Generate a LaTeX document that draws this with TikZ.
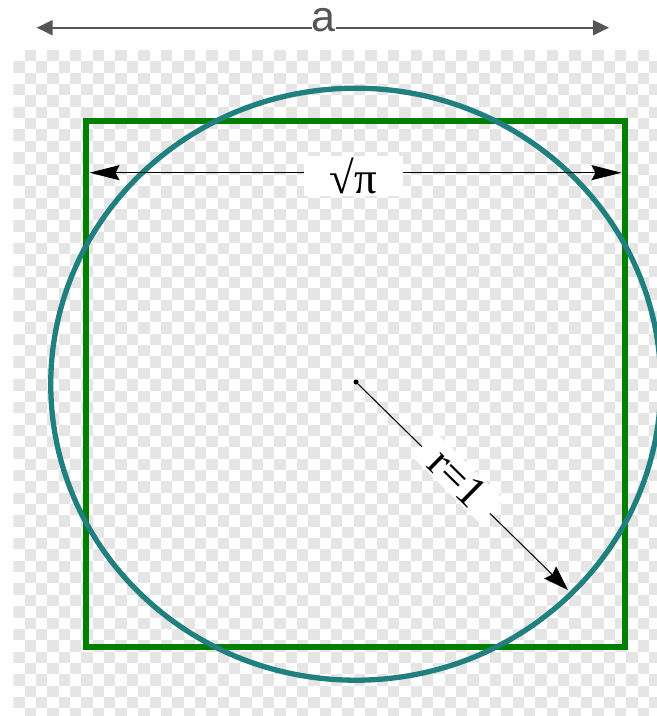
\documentclass[tikz,border=0pt]{standalone}
\usepackage{fontspec}
\setmainfont{Liberation Serif}
\newfontfamily\labsans{Liberation Sans}
\usetikzlibrary{arrows.meta}
\definecolor{sqgreen}{RGB}{0,128,0}
\definecolor{circteal}{RGB}{32,128,128}
\definecolor{dimgrey}{RGB}{85,85,85}
\definecolor{checkgrey}{RGB}{229,229,229}
\tikzset{
  squareline/.style={draw=sqgreen, line width=5.8pt},
  circleline/.style={draw=circteal, line width=5.3pt},
  topdim/.style={draw=dimgrey, line width=2pt, {Triangle[length=16pt,width=15pt]}-{Triangle[length=16pt,width=15pt]}},
  innerdim/.style={draw=black, line width=1pt, {Stealth[length=30pt,width=15pt,inset=4pt]}-{Stealth[length=30pt,width=15pt,inset=4pt]}},
  raddim/.style={draw=black, line width=1pt, -{Stealth[length=25pt,width=17pt,inset=3pt]}},
  serlabel/.style={fill=white, font=\fontsize{45}{46}\selectfont, text=black},
}
\begin{document}
\begin{tikzpicture}[x=1pt,y=-1pt]
\useasboundingbox (0,0) rectangle (657,716);
\fill[white] (0,0) rectangle (657,716);
% checkerboard
\begin{scope}
\clip (13.3,50) rectangle (657,716);
\foreach \r in {0,...,58}{%
  \foreach \c in {0,...,56}{%
    \pgfmathtruncatemacro\cellsum{\r+\c}%
    \ifodd\cellsum
      \fill[checkgrey] ({13.3+\c*11.35},{50+\r*11.35}) rectangle ++(11.35,11.35);
    \fi
  }%
}
\end{scope}
% square and circle
\draw[squareline] (86.3,120.8) rectangle (625.2,646.8);
\draw[circleline] (355.75,384.2) ellipse [x radius=305pt, y radius=296pt];
% top dimension a
\coordinate (aL) at (36.7,27.7);
\coordinate (aR) at (609,27.7);
\draw[topdim] (aL) -- (aR);
\node[anchor=base, fill=white, inner sep=0pt, text=dimgrey, font=\labsans\fontsize{43}{43}\selectfont] (alab) at (323.6,31.5) {a};
% inner dimension sqrt(pi)
\coordinate (pL) at (89.5,172.7);
\coordinate (pR) at (621.5,172.7);
\draw[innerdim] (pL) -- (pR);
\node[serlabel, inner xsep=26pt, inner ysep=2pt] (plab) at (353.3,176) {√π};
% radius
\node[circle, fill=black, inner sep=0pt, minimum size=5pt] (ctr) at (356,382) {};
\coordinate (rtip) at (568,590);
\draw[raddim] (ctr.center) -- (rtip);
\node[serlabel, rotate=-44.5, inner xsep=16pt, inner ysep=2pt] (rlab) at (458,478) {r=1};
\end{tikzpicture}
\end{document}
